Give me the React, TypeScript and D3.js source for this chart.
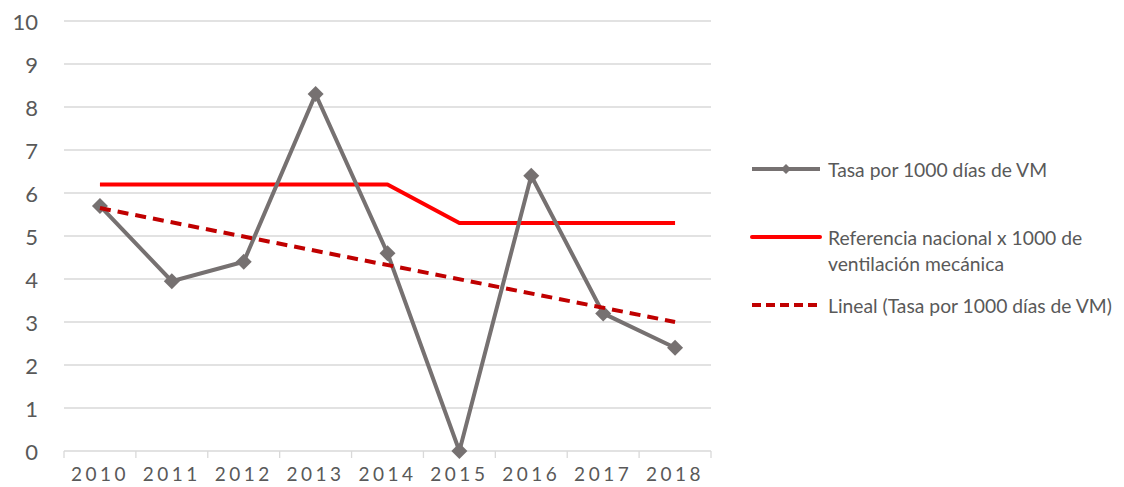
import * as d3 from 'd3';

const years = ['2010', '2011', '2012', '2013', '2014', '2015', '2016', '2017', '2018'];
const tasa = [5.7, 3.95, 4.4, 8.3, 4.6, 0, 6.4, 3.2, 2.4];
const referencia = [6.2, 6.2, 6.2, 6.2, 6.2, 5.3, 5.3, 5.3, 5.3];
// trend line endpoints (first and last year)
const tendencia = [5.65, 3.0];
const yTicks = [0, 1, 2, 3, 4, 5, 6, 7, 8, 9, 10];

const W = 1124;
const H = 487;
const FONT = 'Lato, "Open Sans", "Liberation Sans", sans-serif';
const TEXT = '#595959';

export default function App() {
  const x = d3.scaleBand().domain(years).range([64, 711]);
  const y = d3.scaleLinear().domain([0, 10]).range([451, 21]);
  const cx = (yr: string) => (x(yr) ?? 0) + x.bandwidth() / 2;

  const line = d3
    .line<number>()
    .x((_, i) => cx(years[i]))
    .y((d) => y(d));

  const trendPts: [number, number][] = [
    [cx(years[0]), y(tendencia[0])],
    [cx(years[years.length - 1]), y(tendencia[1])],
  ];

  const diamond = (px: number, py: number, r: number) =>
    `M${px},${py - r}L${px + r},${py}L${px},${py + r}L${px - r},${py}Z`;

  const legendItems = [
    { y: 169, kind: 'tasa', lines: ['Tasa por 1000 días de VM'] },
    { y: 237, kind: 'ref', lines: ['Referencia nacional x 1000 de', 'ventilación mecánica'] },
    { y: 305, kind: 'trend', lines: ['Lineal (Tasa por 1000 días de VM)'] },
  ];

  return (
    <svg width={W} height={H} style={{ position: 'absolute', left: 0, top: 0, background: '#fff' }}>
      {/* gridlines */}
      {yTicks.map((t) => (
        <line key={t} x1={64} x2={711} y1={y(t)} y2={y(t)} stroke="#d9d9d9" strokeWidth={1.3} />
      ))}
      {/* x tick marks */}
      {years.map((yr) => (
        <line key={yr} x1={x(yr)} x2={x(yr)} y1={451} y2={458} stroke="#d9d9d9" strokeWidth={1.3} />
      ))}
      <line x1={711} x2={711} y1={451} y2={458} stroke="#d9d9d9" strokeWidth={1.3} />

      {/* y labels */}
      {yTicks.map((t) => (
        <text key={t} x={38} y={y(t)} textAnchor="end" dominantBaseline="central" fontFamily={FONT} fontSize={22} fill={TEXT}>
          {t}
        </text>
      ))}
      {/* x labels */}
      {years.map((yr) => (
        <text key={yr} x={cx(yr)} y={481} textAnchor="middle" fontFamily={FONT} fontSize={19} letterSpacing={3.5} fill={TEXT}>
          {yr}
        </text>
      ))}

      {/* reference line */}
      <path d={line(referencia) ?? ''} fill="none" stroke="#ff0000" strokeWidth={4} strokeLinejoin="round" />
      {/* series */}
      <path d={line(tasa) ?? ''} fill="none" stroke="#767171" strokeWidth={4} strokeLinejoin="miter" />
      {tasa.map((v, i) => (
        <path key={i} d={diamond(cx(years[i]), y(v), 8)} fill="#767171" />
      ))}
      {/* trend */}
      <line
        x1={trendPts[0][0]}
        y1={trendPts[0][1]}
        x2={trendPts[1][0]}
        y2={trendPts[1][1]}
        stroke="#c00000"
        strokeWidth={4}
        strokeDasharray="11 7"
      />

      {/* legend */}
      {legendItems.map((it) => (
        <g key={it.kind}>
          {it.kind === 'tasa' && (
            <>
              <line x1={752} x2={820} y1={it.y} y2={it.y} stroke="#767171" strokeWidth={4} />
              <path d={diamond(786, it.y, 5)} fill="#767171" />
            </>
          )}
          {it.kind === 'ref' && <line x1={752} x2={820} y1={it.y} y2={it.y} stroke="#ff0000" strokeWidth={4} strokeLinecap="round" />}
          {it.kind === 'trend' && (
            <line x1={752} x2={820} y1={it.y} y2={it.y} stroke="#c00000" strokeWidth={4} strokeDasharray="9 5" />
          )}
          {it.lines.map((l, j) => (
            <text key={j} x={828} y={it.y + j * 26} dominantBaseline="central" fontFamily={FONT} fontSize={19.3} fill={TEXT}>
              {l}
            </text>
          ))}
        </g>
      ))}
    </svg>
  );
}
